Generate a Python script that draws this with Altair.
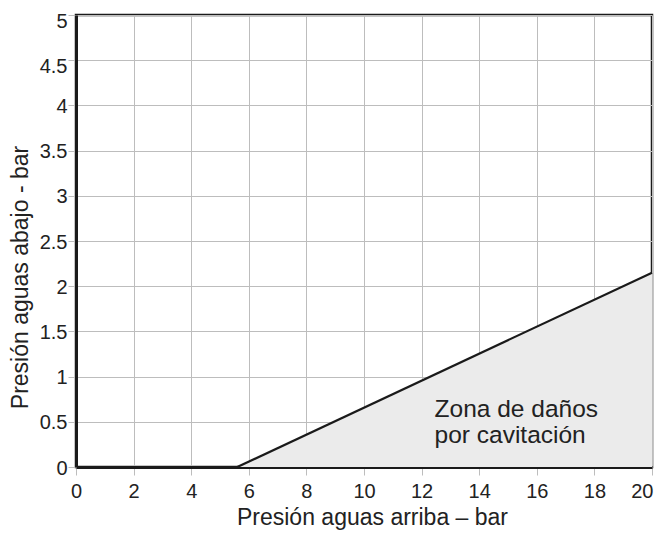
import altair as alt
import pandas as pd

# boundary line of cavitation zone
line_x = [5.6, 20]
line_y = [0.0, 2.15]

x_ticks = [0, 2, 4, 6, 8, 10, 12, 14, 16, 18, 20]
y_ticks = [0, 0.5, 1, 1.5, 2, 2.5, 3, 3.5, 4, 4.5, 5]

label_text = ["Zona de daños", "por cavitación"]
label_x = [12.45, 12.45]
label_y = [0.553, 0.265]

df_line = pd.DataFrame({"x": line_x, "y": line_y})
df_text = pd.DataFrame({"x": label_x, "y": label_y, "t": label_text})

FONT = "Liberation Sans"

xscale = alt.Scale(domain=[0, 20], nice=False, zero=False)
yscale = alt.Scale(domain=[0, 5], nice=False, zero=False)

xaxis = alt.Axis(values=x_ticks, format="~g", title="Presión aguas arriba – bar", grid=True,
                 labelFontSize=20, titleFontSize=23,
                 titleX=296, titleY=57, titleAlign="center", titleBaseline="alphabetic",
                 labelPadding=6, tickSize=8, labelFlush=False,
                 labelAlign={"condition": {"test": "datum.value == 20", "value": "right"}, "value": "center"},
                 labelOffset={"condition": {"test": "datum.value == 20", "value": 1}, "value": 0})
yaxis = alt.Axis(values=y_ticks, format="~g", title="Presión aguas abajo - bar", grid=True,
                 labelFontSize=20, titleFontSize=23,
                 titleX=-56, titleY=262, titleAngle=-90, titleAlign="center", titleBaseline="middle",
                 labelPadding=1, tickSize=8, labelFlush=False,
                 labelOffset={"condition": {"test": "datum.value >= 4.5", "value": 6}, "value": 1})

area = alt.Chart(df_line).mark_area(color="#ebebeb", opacity=1).encode(
    x=alt.X("x:Q", scale=xscale, axis=xaxis),
    y=alt.Y("y:Q", scale=yscale, axis=yaxis),
)
line = alt.Chart(df_line).mark_line(color="#1a1a1a", strokeWidth=2.2).encode(
    x=alt.X("x:Q", scale=xscale),
    y=alt.Y("y:Q", scale=yscale),
)
text = alt.Chart(df_text).mark_text(align="left", baseline="alphabetic", fontSize=24.5,
                                    font=FONT, color="#222222").encode(
    x=alt.X("x:Q", scale=xscale),
    y=alt.Y("y:Q", scale=yscale),
    text="t:N",
)

chart = alt.layer(area, line, text).properties(
    width=576, height=452,
    autosize=alt.AutoSizeParams(type="none"),
    padding={"left": 68, "top": 7, "right": 2, "bottom": 63},
).configure_view(
    stroke="#1a1a1a", strokeWidth=2.5
).configure_axis(
    labelFont=FONT, titleFont=FONT, labelColor="#222222", titleColor="#222222",
    titleFontWeight="normal", gridColor="#bdbdbd", gridWidth=1, tickColor="#bdbdbd",
    tickWidth=1, domainColor="#1a1a1a", domainWidth=3,
)

chart.save("out.html", embed_options={"renderer": "svg", "actions": False})
